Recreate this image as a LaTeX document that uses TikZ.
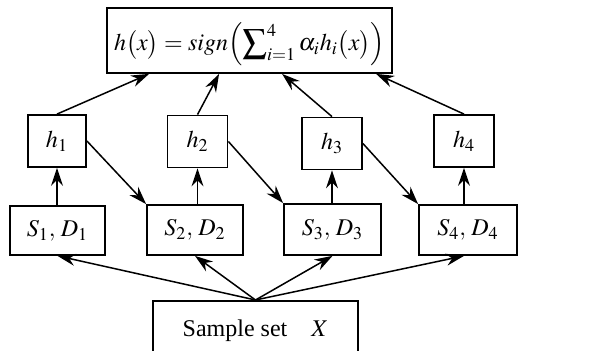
\documentclass[tikz,border=0pt]{standalone}
\usepackage{mathptmx}
\usepackage[no-math]{fontspec}
\setmainfont{Liberation Serif}
\usetikzlibrary{arrows.meta}
\begin{document}
\begin{tikzpicture}[x=0.5pt,y=-0.5pt,font=\fontsize{12}{14}\selectfont,
  bx/.style={draw,line width=0.9pt,inner sep=0pt,minimum height=26pt},
  ar/.style={line width=0.75pt,-{Stealth[length=9pt,width=6pt,inset=3pt]}}]
  \clip (0,0) rectangle (611,351);
  \node[bx,minimum width=142.5pt,minimum height=32.5pt,text height=15pt,text depth=5pt] (top) at (249.5,40.5){$h\bigl(x\bigr)=sign\Bigl(\displaystyle\sum\nolimits_{i=1}^{4}\alpha_{i}h_{i}\bigl(x\bigr)\Bigr)$};
  \node[bx,minimum width=29pt] (h1) at (57,141){$h_{1}$};
  \node[bx,minimum width=30pt] (h2) at (197.5,141.5){$h_{2}$};
  \node[bx,minimum width=30pt] (h3) at (332,143.5){$h_{3}$};
  \node[bx,minimum width=30pt] (h4) at (464,141){$h_{4}$};
  \node[bx,minimum width=47.5pt,minimum height=24.5pt] (s1) at (57.5,230.5){$S_{1},\,D_{1}$};
  \node[bx,minimum width=48pt,minimum height=25pt] (s2) at (195,230){$S_{2},\,D_{2}$};
  \node[bx,minimum width=48.5pt,minimum height=25.5pt] (s3) at (332.5,229.5){$S_{3},\,D_{3}$};
  \node[bx,minimum width=49pt,minimum height=25pt] (s4) at (468,230){$S_{4},\,D_{4}$};
  \node[bx,minimum width=102.5pt,minimum height=35pt,anchor=north] (smp) at (255.5,300){\raisebox{8pt}{Sample set\quad $X$}};
  % S -> h
  \draw[ar] (s1.north -| h1.south) -- (h1.south);
  \draw[ar] (s2.north -| h2.south) -- (h2.south);
  \draw[ar] (s3.north -| h3.south) -- (h3.south);
  \draw[ar] (s4.north -| h4.south) -- (h4.south);
  % h -> top
  \draw[ar] (h1.north) -- ([xshift=21.5pt]top.south west);
  \draw[ar] (h2.north) -- ([xshift=56.5pt]top.south west);
  \draw[ar] (h3.north) -- ([xshift=88pt]top.south west);
  \draw[ar] (h4.north) -- ([xshift=135pt]top.south west);
  % h -> next S
  \draw[ar] (h1.east) -- (s2.north west);
  \draw[ar] (h2.east) -- (s3.north west);
  \draw[ar] (h3.east) -- (s4.north west);
  % sample -> S
  \draw[ar] (smp.north) -- (s1.south);
  \draw[ar] (smp.north) -- (s2.south);
  \draw[ar] (smp.north) -- (s3.south);
  \draw[ar] (smp.north) -- (s4.south -| h4.south);
\end{tikzpicture}
\end{document}
